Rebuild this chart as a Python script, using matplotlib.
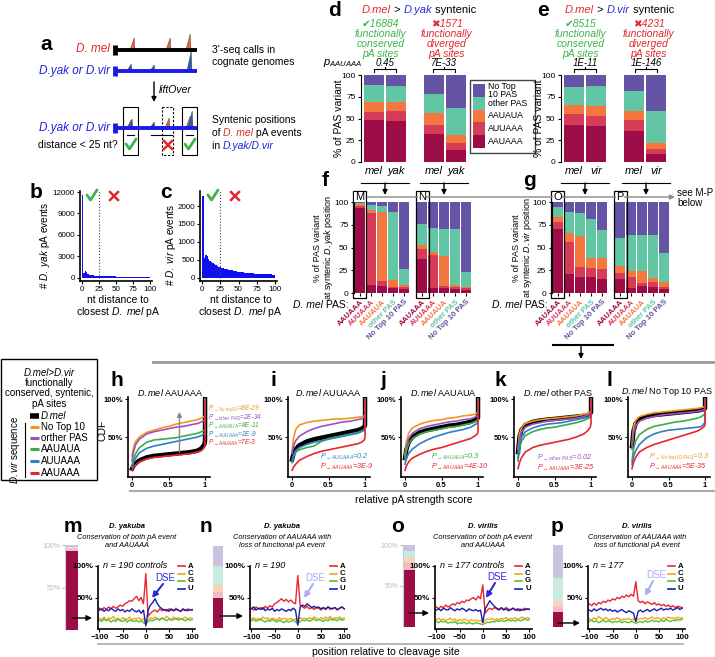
import numpy as np
import matplotlib
matplotlib.use("Agg")
import matplotlib.pyplot as plt
from matplotlib.patches import Rectangle, Polygon

plt.rcParams['font.family'] = ['Liberation Sans', 'DejaVu Sans']
plt.rcParams['mathtext.fontset'] = 'custom'
plt.rcParams['mathtext.rm'] = 'Liberation Sans'
plt.rcParams['mathtext.it'] = 'Liberation Sans:italic'
plt.rcParams['mathtext.bf'] = 'Liberation Sans:bold'

# ---------------- data ----------------
PAS_ORDER = ['AAUAAA', 'AUUAAA', 'AAUAUA', 'other PAS', 'No Top 10 PAS']
PAS_COLORS = ['#9c0d47', '#d63c58', '#f4773f', '#62c6a5', '#6553a6']

HIST_BINS = list(range(0, 100, 2))
B_COUNTS = [11600, 750, 950, 800, 600, 480, 420, 380, 350, 330,
            310, 300, 290, 280, 270, 260, 250, 240, 235, 230,
            225, 220, 215, 210, 205, 200, 195, 190, 185, 180,
            178, 175, 172, 170, 168, 165, 162, 160, 158, 155,
            152, 150, 148, 146, 144, 142, 140, 138, 136, 135]
C_COUNTS = [2280, 560, 640, 620, 540, 480, 440, 410, 380, 350,
            330, 310, 295, 280, 270, 258, 248, 238, 228, 218,
            208, 200, 192, 185, 178, 172, 166, 160, 155, 150,
            145, 141, 137, 133, 129, 126, 123, 120, 117, 114,
            112, 110, 108, 106, 104, 102, 100, 98, 96, 94]

# stacked % per PAS variant (rows follow PAS_ORDER)
D_LABELS = ['mel', 'yak', 'mel', 'yak']
D_BARS = [[48, 47, 32, 14], [10, 12, 11, 8], [11, 10, 13, 9],
          [19, 18, 22, 31], [12, 13, 22, 38]]
E_LABELS = ['mel', 'vir', 'mel', 'vir']
E_BARS = [[43, 41, 36, 9], [12, 12, 12, 6], [11, 11, 11, 7],
          [20, 23, 23, 37], [14, 13, 18, 41]]
D_PVALS = ['0.45', '7E-33']
E_PVALS = ['1E-11', '1E-146']
D_COUNTS = ['16884', '1571']
E_COUNTS = ['8515', '4231']

F_BARS = [[93, 9, 8, 5, 4, 37, 5, 5, 4, 3],
          [3, 79, 5, 2, 3, 11, 37, 3, 3, 2],
          [1.5, 3, 76, 7, 2, 5, 3, 33, 2, 2],
          [1.5, 6, 7, 75, 17, 23, 26, 29, 61, 16],
          [1, 3, 4, 11, 74, 24, 29, 30, 30, 77]]
G_BARS = [[70, 21, 18, 18, 15, 15, 5, 8, 7, 4],
          [8, 35, 11, 10, 11, 7, 13, 3, 5, 3],
          [5, 10, 34, 10, 12, 8, 6, 13, 5, 5],
          [11, 23, 25, 43, 31, 30, 40, 40, 47, 32],
          [6, 11, 12, 19, 31, 40, 36, 36, 36, 56]]

CDF_NAMES = ['D.mel', 'No Top 10', 'other PAS', 'AAUAUA', 'AUUAAA', 'AAUAAA']
CDF_COLORS = ['black', '#f7941d', '#9a52c2', '#3bab4a', '#2f7fc1', '#e8262b']
CDF_X = [0, 0.02, 0.05, 0.1, 0.2, 0.3, 0.4, 0.5, 0.6, 0.7, 0.8, 0.9, 0.95, 0.99, 1.0, 1.0]
H_CDF = [[8, 12, 15, 19, 23, 25, 26, 27, 28, 29, 30, 32, 35, 40, 45, 100],
         [25, 36, 44, 50, 56, 59, 62, 64, 67, 69, 71, 73, 75, 77, 78, 100],
         [18, 30, 40, 47, 54, 57, 59, 61, 63, 64, 66, 68, 70, 72, 74, 100],
         [12, 20, 28, 36, 43, 46, 47, 48, 49, 51, 53, 55, 57, 59, 60, 100],
         [10, 16, 22, 29, 35, 38, 40, 42, 44, 46, 48, 50, 52, 54, 56, 100],
         [6, 10, 13, 17, 21, 23, 24, 25, 26, 27, 28, 30, 32, 36, 40, 100]]
I_CDF = [[20, 28, 34, 39, 44, 47, 49, 51, 53, 55, 57, 59, 61, 63, 66, 100],
         [30, 48, 60, 66, 69, 71, 72, 73, 74, 74, 75, 76, 77, 78, 80, 100],
         [28, 38, 45, 51, 57, 61, 64, 66, 68, 70, 71, 73, 74, 76, 79, 100],
         [16, 24, 30, 33, 36, 38, 44, 48, 50, 52, 54, 56, 58, 60, 63, 100],
         [18, 26, 32, 36, 40, 43, 45, 47, 49, 51, 53, 55, 57, 59, 62, 100],
         [6, 10, 14, 19, 24, 28, 31, 33, 35, 37, 39, 41, 43, 46, 50, 100]]
J_CDF = [[22, 34, 43, 50, 56, 59, 61, 63, 65, 66, 68, 70, 72, 74, 76, 100],
         [26, 44, 55, 62, 67, 70, 72, 73, 75, 76, 78, 79, 80, 82, 84, 100],
         [24, 38, 48, 55, 61, 64, 66, 68, 70, 71, 73, 74, 76, 78, 80, 100],
         [20, 32, 41, 48, 54, 57, 59, 61, 63, 64, 66, 68, 70, 72, 74, 100],
         [14, 22, 28, 34, 41, 46, 50, 53, 56, 58, 60, 63, 66, 68, 70, 100],
         [6, 12, 17, 22, 27, 31, 34, 36, 39, 42, 45, 48, 51, 54, 57, 100]]
K_CDF = [[30, 50, 60, 66, 70, 72, 73, 74, 75, 76, 77, 78, 79, 81, 83, 100],
         [34, 54, 63, 68, 71, 73, 74, 75, 76, 77, 78, 80, 81, 83, 85, 100],
         [28, 46, 57, 63, 67, 69, 71, 72, 73, 74, 75, 77, 79, 80, 82, 100],
         [18, 35, 45, 52, 57, 60, 62, 63, 65, 67, 69, 72, 74, 76, 78, 100],
         [22, 40, 50, 57, 62, 65, 67, 68, 69, 71, 73, 75, 76, 78, 80, 100],
         [8, 16, 23, 30, 36, 39, 41, 43, 45, 47, 50, 54, 58, 63, 68, 100]]
L_CDF = [[38, 58, 68, 74, 77, 79, 80, 81, 82, 83, 84, 85, 86, 87, 88, 100],
         [40, 62, 72, 77, 80, 82, 83, 84, 85, 86, 87, 88, 89, 90, 91, 100],
         [34, 55, 65, 71, 75, 77, 79, 80, 81, 82, 83, 84, 85, 86, 87, 100],
         [18, 34, 45, 53, 60, 64, 66, 68, 70, 71, 73, 75, 77, 80, 82, 100],
         [14, 24, 32, 40, 49, 54, 57, 59, 60, 61, 62, 63, 64, 68, 72, 100],
         [8, 16, 23, 30, 36, 40, 43, 46, 49, 52, 55, 58, 61, 64, 67, 100]]

H_PTEXT = [(r'$P_{\rightarrow No\ top 10}$=8E-29', '#f7941d'),
           (r'$P_{\rightarrow other\ PAS}$=2E-34', '#9a52c2'),
           (r'$P_{\rightarrow AAUAUA}$=8E-11', '#3bab4a'),
           (r'$P_{\rightarrow AUUAAA}$=2E-9', '#2f7fc1'),
           (r'$P_{\rightarrow AAUAAA}$=7E-3', '#e8262b')]
I_PTEXT = [(r'$P_{\rightarrow AUUAAA}$=0.2', '#2f7fc1'), (r'$P_{\rightarrow AAUAAA}$=3E-9', '#e8262b')]
J_PTEXT = [(r'$P_{\rightarrow AAUAUA}$=0.3', '#3bab4a'), (r'$P_{\rightarrow AAUAAA}$=4E-10', '#e8262b')]
K_PTEXT = [(r'$P_{\rightarrow other\ PAS}$=0.02', '#9a52c2'), (r'$P_{\rightarrow AAUAAA}$=3E-25', '#e8262b')]
L_PTEXT = [(r'$P_{\rightarrow No\ top 10\ PAS}$=0.3', '#f7941d'), (r'$P_{\rightarrow AAUAAA}$=5E-35', '#e8262b')]

POS = list(range(-100, 101, 5))
NT = ['A', 'C', 'G', 'U']
NT_COLORS = ['#e8262b', '#f5a623', '#56c22e', '#1c1ca8']
M_PROF = [[33, 30, 34, 31, 35, 32, 36, 33, 35, 38, 36, 40, 42, 45, 44, 48, 52, 45, 50, 40, 88,
           20, 25, 28, 30, 27, 32, 29, 31, 28, 32, 30, 29, 33, 30, 28, 31, 29, 32, 30, 31],
          [17, 15, 19, 14, 18, 16, 20, 15, 17, 14, 18, 16, 15, 19, 14, 17, 16, 18, 14, 16, 10,
           15, 18, 16, 19, 17, 15, 18, 16, 20, 17, 15, 19, 16, 18, 15, 17, 19, 16, 18, 17],
          [14, 12, 16, 13, 15, 11, 14, 12, 16, 13, 12, 15, 11, 14, 13, 12, 14, 11, 13, 10, 8,
           12, 14, 13, 15, 16, 14, 17, 15, 13, 16, 14, 15, 17, 14, 16, 15, 13, 16, 14, 15],
          [30, 32, 28, 31, 29, 33, 30, 28, 32, 29, 31, 27, 30, 28, 32, 29, 27, 30, 25, 30, 5,
           30, 38, 42, 48, 40, 35, 32, 30, 31, 28, 32, 29, 31, 30, 28, 32, 30, 29, 31, 30]]
N_PROF = [[33, 30, 35, 32, 34, 31, 36, 33, 37, 35, 40, 42, 45, 48, 44, 47, 43, 46, 42, 40, 85,
           38, 35, 33, 36, 32, 34, 31, 35, 33, 30, 34, 32, 35, 31, 33, 34, 30, 33, 35, 32],
          [16, 18, 15, 17, 14, 19, 16, 18, 15, 17, 16, 14, 18, 15, 17, 16, 15, 17, 14, 16, 12,
           18, 16, 17, 15, 18, 16, 19, 17, 15, 18, 16, 19, 17, 20, 16, 18, 17, 19, 16, 18],
          [13, 15, 12, 14, 16, 13, 11, 14, 12, 15, 13, 11, 14, 12, 10, 13, 11, 12, 14, 11, 9,
           12, 14, 13, 15, 12, 14, 16, 13, 15, 14, 12, 15, 13, 16, 14, 15, 13, 16, 14, 15],
          [32, 35, 30, 33, 31, 34, 29, 32, 30, 33, 28, 31, 29, 32, 30, 28, 31, 29, 33, 30, 6,
           35, 38, 36, 40, 37, 34, 36, 33, 35, 32, 34, 31, 35, 33, 32, 34, 31, 33, 35, 32]]
O_PROF = [[35, 32, 36, 34, 38, 35, 37, 40, 38, 42, 40, 44, 42, 46, 45, 48, 50, 46, 52, 48, 70,
           25, 30, 33, 31, 34, 32, 30, 33, 31, 34, 32, 30, 33, 31, 29, 32, 30, 33, 31, 32],
          [15, 17, 14, 16, 13, 15, 17, 14, 16, 12, 15, 13, 16, 14, 12, 15, 13, 14, 12, 14, 10,
           14, 16, 15, 17, 14, 16, 15, 17, 16, 18, 15, 17, 16, 18, 15, 17, 19, 16, 18, 17],
          [12, 10, 13, 11, 12, 9, 11, 10, 12, 8, 10, 9, 11, 8, 10, 9, 8, 10, 9, 8, 7,
           9, 11, 10, 12, 11, 13, 12, 14, 12, 13, 15, 13, 14, 12, 15, 13, 14, 16, 14, 15],
          [30, 32, 29, 33, 31, 30, 34, 31, 29, 32, 30, 33, 31, 28, 32, 30, 29, 31, 28, 30, 10,
           32, 38, 45, 40, 36, 33, 31, 34, 30, 32, 29, 31, 33, 30, 32, 29, 31, 30, 32, 31]]
P_PROF = [[40, 37, 41, 38, 42, 40, 44, 42, 46, 44, 48, 46, 50, 48, 52, 50, 54, 51, 55, 52, 75,
           45, 42, 44, 40, 43, 41, 39, 42, 38, 40, 37, 39, 36, 38, 35, 37, 34, 36, 35, 34],
          [16, 14, 18, 15, 20, 17, 15, 18, 16, 14, 17, 15, 18, 16, 14, 16, 15, 17, 14, 16, 13,
           15, 17, 16, 18, 15, 17, 19, 16, 18, 17, 15, 18, 16, 19, 17, 18, 16, 19, 17, 18],
          [12, 14, 11, 13, 10, 12, 14, 11, 13, 12, 10, 12, 11, 13, 10, 12, 11, 10, 12, 11, 9,
           11, 12, 10, 13, 11, 12, 14, 12, 13, 11, 14, 12, 15, 13, 12, 14, 13, 15, 14, 16],
          [30, 28, 32, 29, 31, 33, 30, 32, 29, 31, 28, 30, 27, 29, 31, 28, 26, 29, 27, 25, 12,
           28, 30, 27, 29, 31, 28, 30, 32, 29, 31, 33, 30, 32, 31, 33, 30, 32, 34, 31, 33]]
# PAS upstream of pA at syntenic position (PAS_ORDER)
M_STACK = [93, 2, 1, 2, 2]
N_STACK = [37, 7, 8, 24, 24]
O_STACK = [70, 8, 6, 9, 7]
P_STACK = [18, 7, 7, 28, 40]

RED = '#e3262d'
BLUE = '#2b2bd9'
GREEN = '#3cb44a'

# ---------------- figure ----------------
W, H = 715, 657
fig = plt.figure(figsize=(W / 100, H / 100), dpi=100)
fig.patch.set_facecolor('white')

ov = fig.add_axes([0, 0, 1, 1], zorder=5)
ov.set_xlim(0, W)
ov.set_ylim(H, 0)
ov.axis('off')


def px_axes(x0, y0, x1, y1):
    return fig.add_axes([x0 / W, 1 - y1 / H, (x1 - x0) / W, (y1 - y0) / H])


def chain(x, y, parts, size, va='center'):
    s, c, st = parts[0]
    t = ov.text(x, y, s, color=c, fontstyle=st, fontsize=size, va=va, ha='left')
    for s, c, st in parts[1:]:
        t = ov.annotate(s, xy=(1, 0), xycoords=t, va='bottom', ha='left',
                        color=c, fontstyle=st, fontsize=size)
    return t


def letter(x, y, s):
    ov.text(x, y, s, fontsize=15, fontweight='bold', ha='left', va='center')


def down_arrow(x, y0, y1, color='k', lw=1.0):
    ov.annotate('', xy=(x, y1), xytext=(x, y0),
                arrowprops=dict(arrowstyle='-|>', color=color, lw=lw, mutation_scale=7,
                                shrinkA=0, shrinkB=0))


def check(x, y, color=GREEN, lw=2):
    ov.plot([x - 5, x - 1.5, x + 5], [y - 1, y + 4, y - 6], color=color, lw=lw,
            solid_capstyle='round', solid_joinstyle='round')


def cross(x, y, color=RED, lw=1.8):
    ov.plot([x - 4, x + 4], [y - 4, y + 4], color=color, lw=lw)
    ov.plot([x - 4, x + 4], [y + 4, y - 4], color=color, lw=lw)


def stacked(ax, xs, rows, width, alphas=None):
    bottom = np.zeros(len(xs))
    for i, vals in enumerate(rows):
        a = 1 if alphas is None else alphas[i]
        ax.bar(xs, vals, width, bottom=bottom, color=PAS_COLORS[i], alpha=a, linewidth=0)
        bottom += np.array(vals, dtype=float)


# ---------------- panel a ----------------
letter(40, 45, 'a')


def peak(x, base, h, color):
    ov.add_patch(Polygon([(x - 3, base), (x + 1.2, base - h), (x + 2, base)], closed=True,
                         fc=color, ec='#333333', lw=0.3, zorder=2))


ORANGE_PK = '#e5683a'
BLUE_PK = '#2d5fae'
for y, col in [(50, 'k'), (71, '#1a1ae6'), (128, '#1a1ae6')]:
    ov.plot([114, 197], [y, y], color=col, lw=2.8, solid_capstyle='butt', zorder=3)
    ov.plot([115, 115], [y - 5, y + 5], color=col, lw=3.5, solid_capstyle='butt', zorder=3)
for x, h in [(133, 12), (169, 12), (189, 16)]:
    peak(x, 50, h, ORANGE_PK)
for x, h in [(130, 7), (153, 6), (190, 20)]:
    peak(x, 71, h, BLUE_PK)
peak(131, 128, 9, ORANGE_PK)
peak(130, 128, 8, BLUE_PK)
peak(153, 128, 6, BLUE_PK)
peak(168, 128, 10, ORANGE_PK)
peak(189, 128, 12, ORANGE_PK)
peak(191, 128, 17, BLUE_PK)

ov.text(110, 49, 'D. mel', color=RED, style='italic', fontsize=8.5, ha='right', va='center')
ov.text(110, 71, 'D.yak or D.vir', color='#2020e0', style='italic', fontsize=8.5, ha='right', va='center')
ov.text(110, 128, 'D.yak or D.vir', color='#2020e0', style='italic', fontsize=8.5, ha='right', va='center')
down_arrow(154, 82, 102)
ov.text(159, 90, 'liftOver', style='italic', fontsize=7.5, va='center')
ov.text(118, 145, 'distance < 25 nt?', fontsize=7.5, ha='right', va='center')
ov.add_patch(Rectangle((123, 107), 15, 48, fill=False, ec='k', lw=0.8))
ov.add_patch(Rectangle((162, 107), 11, 48, fill=False, ec='k', lw=0.8, ls=(0, (2, 1.5))))
ov.add_patch(Rectangle((182, 107), 15, 48, fill=False, ec='k', lw=0.8))
ov.plot([127, 134], [135, 135], color='k', lw=0.8)
ov.plot([151, 172], [135, 135], color='k', lw=0.8)
ov.plot([186, 193], [135, 135], color='k', lw=0.8)
check(131, 145)
check(190, 145)
cross(168, 145)
ov.text(212, 56, "3'-seq calls in\ncognate genomes", fontsize=7.5, va='center', linespacing=1.15)
ov.text(212, 120, 'Syntenic positions', fontsize=7.5, va='center')
chain(212, 133, [('of ', 'k', 'normal'), ('D. mel', RED, 'italic'), (' pA events', 'k', 'normal')], 7.5)
chain(212, 146, [('in ', 'k', 'normal'), ('D.yak/D.vir', '#2020e0', 'italic')], 7.5)

# ---------------- panels b, c ----------------
letter(30, 192, 'b')
letter(160, 192, 'c')
for (x0, x1, counts, ymax, yticks, sp) in [(80, 152, B_COUNTS, 12140, [0, 3000, 6000, 9000, 12000], 'yak'),
                                          (200, 277, C_COUNTS, 2417, [0, 500, 1000, 1500, 2000], 'vir')]:
    ax = px_axes(x0, 191, x1, 281)
    ax.bar(HIST_BINS, counts, width=2, align='edge', color='#1010ee', linewidth=0)
    ax.axvline(25, color='#444444', ls=':', lw=0.8)
    ax.set_xlim(-3, 103)
    ax.set_ylim(-ymax * 0.035, ymax)
    ax.set_yticks(yticks)
    ax.set_xticks([0, 25, 50, 75, 100])
    ax.tick_params(labelsize=5.8, length=2.5, width=0.8, pad=1.2)
    for s in ['top', 'right']:
        ax.spines[s].set_visible(False)
    for s in ['left', 'bottom']:
        ax.spines[s].set_linewidth(1.2)
    xm = (x0 + x1) / 2 + 2
    ov.text(xm, 307, 'nt distance to\nclosest $\\mathit{D.\\ mel}$ pA', fontsize=7.5,
            ha='center', va='center', linespacing=1.0)
    ov.text(x0 - 35 if sp == 'yak' else x0 - 29, 245, '# $\\mathit{D.\\ ' + sp + '}$ pA events',
            fontsize=7.2, rotation=90, ha='center', va='center')
check(92, 196)
cross(114, 196)
check(213, 196)
cross(235, 196)

# ---------------- panels d, e ----------------
BAR_X = [0, 1, 2.7, 3.7]
for (x0, labels, rows, pvals, counts, sp, lx, tx, grp) in [
        (361, D_LABELS, D_BARS, D_PVALS, D_COUNTS, 'D.yak', 328, 362, (385, 444)),
        (561, E_LABELS, E_BARS, E_PVALS, E_COUNTS, 'D.vir', 537, 565, (585, 646))]:
    ax = px_axes(x0, 75, x0 + 106, 162)
    stacked(ax, BAR_X, rows, 0.92)
    ax.set_xlim(-0.6, 4.2)
    ax.set_ylim(0, 100)
    ax.set_yticks([0, 25, 50, 75, 100])
    ax.set_xticks(BAR_X)
    ax.set_xticklabels(labels, fontstyle='italic', fontsize=8)
    ax.tick_params(axis='y', labelsize=6, length=2.5, pad=1.5)
    ax.tick_params(axis='x', length=0, pad=3)
    for s in ['top', 'right', 'bottom']:
        ax.spines[s].set_visible(False)
    ov.text(x0 - 22, 118, '% of PAS variant', rotation=90, fontsize=7.5, ha='center', va='center')
    letter(lx, 10, 'd' if sp == 'D.yak' else 'e')
    chain(tx, 10, [('D.mel', RED, 'italic'), (' > ', 'k', 'normal'), (sp, BLUE, 'italic'),
                   (' syntenic', 'k', 'normal')], 8)
    gx = [grp[0] - 4, grp[1] + 3]
    ov.text(gx[0], 39, '\u2714' + counts[0] + '\nfunctionally\nconserved\npA sites', color=GREEN,
            fontsize=7.5, style='italic', ha='center', va='center', linespacing=0.98)
    ov.text(gx[1], 39, '\u2716' + counts[1] + '\nfunctionally\ndiverged\npA sites', color=RED,
            fontsize=7.5, style='italic', ha='center', va='center', linespacing=0.98)
    for xc, pv in zip(grp, pvals):
        ov.plot([xc - 11, xc - 11, xc + 11, xc + 11], [72, 69, 69, 72], color='k', lw=0.8)
        ov.plot([xc, xc], [69, 66.5], color='k', lw=0.8)
        ov.text(xc, 68, pv, fontsize=7, style='italic', ha='center', va='bottom')
        ov.plot([xc - 24, xc + 24], [183, 183], color='k', lw=0.8)
        down_arrow(xc, 183, 195)
ov.text(343, 63, r'$p_{AAUAAA}$', fontsize=8, ha='center', va='center')

# legend between d and e
ov.add_patch(Rectangle((470, 80), 65, 73, fill=False, ec='#444444', lw=1))
leg_y = [(135, 148), (122, 135), (110, 122), (97, 110), (84, 97)]
leg_txt = ['AAUAAA', 'AUUAAA', 'AAUAUA', 'other PAS', 'No Top\n10 PAS']
for (ya, yb), col, t in zip(leg_y, PAS_COLORS, leg_txt):
    ov.add_patch(Rectangle((473, ya), 12, yb - ya, fc=col, ec='none'))
    ov.text(488, (ya + yb) / 2, t, fontsize=6.3, va='center', linespacing=0.9)

# ---------------- panels f, g ----------------
FG_X = [0, 1, 2, 3, 4, 5.65, 6.65, 7.65, 8.65, 9.65]
FG_LABELS = PAS_ORDER * 2
for (x0, rows, sp, lx, ylx, boxes, plx) in [
        (354, F_BARS, 'D.yak', 322, 324, [(353, 'M'), (415.5, 'N')], 293),
        (552, G_BARS, 'D.vir', 523, 523, [(551, 'O'), (613.5, 'P')], 492)]:
    ax = px_axes(x0, 202, x0 + 120, 293)
    stacked(ax, FG_X, rows, 0.9)
    ax.set_xlim(-0.55, 10.36)
    ax.set_ylim(0, 100)
    ax.set_yticks([0, 25, 50, 75, 100])
    ax.set_xticks(FG_X)
    ax.set_xticklabels(FG_LABELS, rotation=45, ha='right', rotation_mode='anchor',
                       fontsize=5.6, fontweight='bold')
    for tl, col in zip(ax.get_xticklabels(), PAS_COLORS * 2):
        tl.set_color(col)
    ax.tick_params(axis='y', labelsize=6, length=2.5, pad=1.5)
    ax.tick_params(axis='x', length=2, pad=2)
    for s in ['top', 'right', 'bottom']:
        ax.spines[s].set_visible(False)
    ov.text(ylx, 248, '% of PAS variant\nat syntenic $\\mathit{' + sp + '}$ position', rotation=90,
            fontsize=6.5, ha='center', va='center', linespacing=0.9)
    letter(lx, 180, 'f' if sp == 'D.yak' else 'g')
    chain(plx, 305, [('D. mel', 'k', 'italic'), (' PAS:', 'k', 'normal')], 7.5)
    for bx, s in boxes:
        ov.add_patch(Rectangle((bx, 191), 13, 107, fill=False, ec='k', lw=0.9))
        ov.text(bx + 6.5, 197, s, fontsize=8, ha='center', va='center',
                bbox=dict(fc='white', ec='none', pad=0.3))

ov.annotate('', xy=(675, 197), xytext=(368, 197),
            arrowprops=dict(arrowstyle='-|>', color='#888888', lw=1, mutation_scale=7,
                            shrinkA=0, shrinkB=0), zorder=1)
ov.text(677, 198, 'see M-P\nbelow', fontsize=7, va='center', linespacing=1.0)
ov.plot([553, 613], [345, 345], color='k', lw=1.5)
down_arrow(581, 345, 359)

# ---------------- panels h - l ----------------
ov.plot([153, 713], [362, 362], color='#999999', lw=2)
ov.plot([130, 715], [491, 491], color='#aaaaaa', lw=1.5)
ov.text(355, 500, 'relative pA strength score', fontsize=7.5, va='center')

ov.add_patch(Rectangle((1, 359), 96, 121, fill=False, ec='k', lw=1))
ov.text(49, 373, 'D.mel>D.vir', fontsize=7, ha='center', va='center', style='italic')
ov.text(49, 378, 'functionally\nconserved, syntenic,\npA sites', fontsize=7, ha='center',
        va='top', linespacing=1.05)
leg_ys = [416, 427, 438, 449, 461, 473]
leg_names = ['D.mel', 'No Top 10', 'orther PAS', 'AAUAUA', 'AUUAAA', 'AAUAAA']
for y, col, nm in zip(leg_ys, CDF_COLORS, leg_names):
    ov.plot([30, 39], [y, y], color=col, lw=4 if col == 'black' else 2.2, solid_capstyle='butt')
    ov.text(41, y, nm, fontsize=7, va='center', style='italic' if nm == 'D.mel' else 'normal')
ov.plot([25, 25], [423, 477], color='k', lw=0.8)
ov.text(15, 450, r'$\mathit{D.vir}$ sequence', rotation=90, fontsize=7, ha='center', va='center')

CDF_PANELS = [('h', 'AAUAAA', H_CDF, 128, 110, 170, H_PTEXT, 208, [409, 417.5, 426, 434.5, 443]),
              ('i', 'AUUAAA', I_CDF, 288, 270, 328, I_PTEXT, 320, [457, 467]),
              ('j', 'AAUAUA', J_CDF, 401, 380, 443, J_PTEXT, 431, [457, 467]),
              ('k', 'other PAS', K_CDF, 514, 495, 558, K_PTEXT, 537, [458, 468]),
              ('l', 'No Top 10 PAS', L_CDF, 628, 606, 667, L_PTEXT, 649, [457, 467])]
for (lt, title, series, x0, lx, tx, ptext, px, pys) in CDF_PANELS:
    ax = px_axes(x0, 397, x0 + 82, 477)
    for i, (vals, col) in enumerate(zip(series, CDF_COLORS)):
        if i == 0:
            ax.plot(CDF_X, vals, color=col, lw=3.2, zorder=1)
        else:
            ax.plot(CDF_X, vals, color=col, lw=1.2, zorder=2)
    ax.set_xlim(-0.055, 1.068)
    ax.set_ylim(-3, 103)
    ax.set_xticks([0, 0.5, 1])
    ax.set_xticklabels(['0', '0.5', '1'])
    ax.set_yticks([50, 100])
    ax.set_yticklabels(['50%', '100%'])
    ax.tick_params(labelsize=5.5, length=2, pad=1.5)
    for tl in ax.get_xticklabels() + ax.get_yticklabels():
        tl.set_fontweight('bold')
    for s in ['top', 'right']:
        ax.spines[s].set_visible(False)
    for s in ['left', 'bottom']:
        ax.spines[s].set_linewidth(1.2)
    if lt == 'h':
        ax.annotate('', xy=(0.65, 87), xytext=(0.65, 26),
                    arrowprops=dict(arrowstyle='-|>', color='#888888', lw=1, mutation_scale=7))
        ov.text(103, 430, 'CDF', rotation=90, fontsize=7.5, ha='center', va='center')
    letter(lx, 380, lt)
    ov.text(tx, 392, r'$\mathit{D.mel}$ ' + title, fontsize=6.5, ha='center', va='center')
    psize = 4.7 if lt == 'h' else 5.2
    for (s, col), y in zip(ptext, pys):
        ov.text(px, y, s, color=col, fontsize=psize, style='italic', va='center')

# ---------------- panels m - p ----------------
ov.plot([98, 683], [644, 644], color='#aaaaaa', lw=1.2)
ov.text(312, 652, 'position relative to cleavage site', fontsize=7.5, va='center')

PROF_PANELS = [('m', M_PROF, M_STACK, (65, 545, 79, 630), True, 98, 'D. yakuba',
                'Conservation of both pA event\nand AAUAAA', 'n = 190 controls', BLUE,
                (165, 578, 163, 584, 152, 598), (72, 92, 618), 127),
               ('n', N_PROF, N_STACK, (212, 546, 224, 628), False, 250, 'D. yakuba',
                'Conservation of AAUAAA with\nloss of functional pA event', 'n = 190', '#a9aef0',
                (315, 578, 313, 584, 304, 598), (220, 243, 616), 282),
               ('o', O_PROF, O_STACK, (403, 545, 416, 627), True, 435, 'D. virilis',
                'Conservation of both pA event\nand AAUAAA', 'n = 177 controls', BLUE,
                (497, 577, 495, 583, 486, 598), (409, 429, 613), 483),
               ('p', P_PROF, P_STACK, (552, 545, 564, 627), False, 588, 'D. virilis',
                'Conservation of AAUAAA with\nloss of functional pA event', 'n = 177', '#a9aef0',
                (656, 575, 653, 581, 645, 596), (558, 580, 623), 637)]
for (lt, prof, stack, bbox, show_ax, x0, sp, sub, ntext, dse_col, dse, arr, tx) in PROF_PANELS:
    bx = px_axes(*bbox)
    stacked(bx, [0], [[v] for v in stack], 0.8, alphas=[1, 0.35, 0.35, 0.35, 0.35])
    bx.set_xlim(-0.5, 0.5)
    bx.set_ylim(0, 100)
    for s in ['top', 'right', 'bottom']:
        bx.spines[s].set_visible(False)
    bx.set_xticks([])
    if show_ax:
        bx.spines['left'].set_color('#cccccc')
        bx.set_yticks([50, 100])
        bx.set_yticklabels(['50%', '100%'])
        bx.tick_params(axis='y', labelsize=5, colors='#bbbbbb', length=2, pad=1)
    else:
        bx.spines['left'].set_visible(False)
        bx.set_yticks([])
    bx.patch.set_alpha(0)

    ax = px_axes(x0, 566, x0 + 97, 629)
    for vals, col in zip(prof, NT_COLORS):
        ax.plot(POS, vals, color=col, lw=1.0)
    ax.set_xlim(-103, 106)
    ax.set_ylim(0, 100)
    ax.set_xticks([-100, -50, 0, 50, 100])
    ax.set_yticks([50, 100])
    ax.set_yticklabels(['50%', '100%'])
    ax.tick_params(labelsize=5.8, length=2, pad=1.5)
    for tl in ax.get_xticklabels() + ax.get_yticklabels():
        tl.set_fontweight('bold')
    for s in ['top', 'right']:
        ax.spines[s].set_visible(False)
    for s in ['left', 'bottom']:
        ax.spines[s].set_linewidth(1.2)

    letter(bbox[0] - 1 if lt in 'mp' else bbox[0] - 12, 527, lt)
    ov.text(tx, 527, sp, fontsize=5.5, fontweight='bold', style='italic', ha='center', va='center')
    ov.text(tx, 541.5, sub, fontsize=5.3, style='italic', ha='center', va='center', linespacing=1.05)
    ov.text(x0 + 5, 566, ntext, fontsize=6.5, style='italic', va='center')
    ov.text(dse[0], dse[1], 'DSE', color=dse_col, fontsize=7, ha='center', va='center')
    ov.annotate('', xy=(dse[4], dse[5]), xytext=(dse[2], dse[3]),
                arrowprops=dict(arrowstyle='-|>', color=dse_col, lw=1.5, mutation_scale=8,
                                shrinkA=0, shrinkB=0))
    ov.annotate('', xy=(arr[1], arr[2]), xytext=(arr[0], arr[2]),
                arrowprops=dict(arrowstyle='-|>', color='k', lw=1, mutation_scale=8,
                                shrinkA=0, shrinkB=0))
    lgx = x0 + 80
    for (nt, col), y in zip(zip(NT, NT_COLORS), [566, 573.5, 581, 588.5]):
        ov.plot([lgx, lgx + 7], [y, y], color=col, lw=1.2)
        ov.text(lgx + 10, y, nt, fontsize=5.6, fontweight='bold', va='center')

fig.savefig('out.png', dpi=100)
